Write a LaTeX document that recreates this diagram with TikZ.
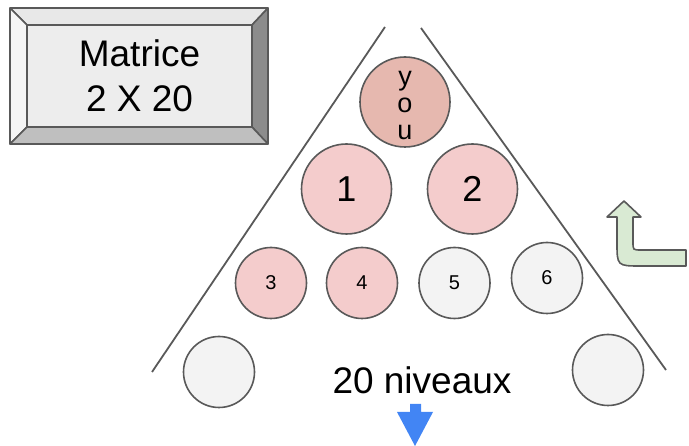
\documentclass[tikz,border=0pt]{standalone}
\usepackage{fontspec}
\setmainfont{Liberation Sans}
\definecolor{edgegray}{HTML}{595959}
\definecolor{youred}{HTML}{E6B8AF}
\definecolor{lightred}{HTML}{F4CCCC}
\definecolor{lightgray}{HTML}{F3F3F3}
\definecolor{lightgreen}{HTML}{D9EAD3}
\definecolor{arrowblue}{HTML}{4285F4}
\begin{document}
\begin{tikzpicture}[x=1pt, y=-1pt, line join=round,
    ball/.style={circle, draw=edgegray, line width=1.6pt, inner sep=0pt},
    big ball/.style={ball, minimum size=90pt, font=\fontsize{36}{40}\selectfont},
    small ball/.style={ball, minimum size=71pt, font=\fontsize{20}{22}\selectfont},
    face/.style={draw=edgegray, line width=1.6pt}]
    \useasboundingbox (0,0) rectangle (689,446);

    % bevelled label
    \path[face, fill=black!9] (10,8) -- (268,8) -- (252,25) -- (27,25) -- cycle;
    \path[face, fill=black!4] (10,8) -- (27,25) -- (27,127) -- (10,144) -- cycle;
    \path[face, fill=black!45] (268,8) -- (268,144) -- (252,127) -- (252,25) -- cycle;
    \path[face, fill=black!25] (10,144) -- (27,127) -- (252,127) -- (268,144) -- cycle;
    \path[face, fill=black!7] (27,25) rectangle (252,127);
    \node[align=center, font=\fontsize{37}{45}\selectfont] (matrice) at (139.5,76) {Matrice\\2 X 20};

    % pyramid sides
    \draw[edgegray, line width=1.8pt] (385,27) -- (152,372);
    \draw[edgegray, line width=1.8pt] (421,28) -- (666,370);

    \node[big ball, fill=youred,
        label={[align=center, yshift=-4pt, font=\fontsize{27}{27}\selectfont]center:y\\o\\u}] (you) at (405,102) {};
    \node[big ball, fill=lightred] (1) at (346.5,189) {1};
    \node[big ball, fill=lightred] (2) at (472.5,189) {2};
    \node[small ball, fill=lightred] (3) at (271,283) {3};
    \node[small ball, fill=lightred] (4) at (362,283) {4};
    \node[small ball, fill=lightgray] (5) at (454.5,283) {5};
    \node[small ball, fill=lightgray] (6) at (547,278) {6};
    \node[small ball, fill=lightgray] (7) at (219,372) {};
    \node[small ball, fill=lightgray] (8) at (608,370) {};

    \node[font=\fontsize{37}{42}\selectfont] (niveaux) at (422,380) {20 niveaux};

    % arrows
    \path[fill=arrowblue] (410,404) -- (421,404) -- (421,412) -- (433,412) -- (415,446)
        -- (397,412) -- (410,412) -- cycle;
    \path[face, fill=lightgreen] (624,201) -- (641,217) -- (633,217) -- (633,242)
        .. controls (633,250) .. (641,250) -- (686,250) -- (686,266) -- (641,266)
        .. controls (617,266) .. (617,242) -- (617,217) -- (607,217) -- cycle;
\end{tikzpicture}
\end{document}
